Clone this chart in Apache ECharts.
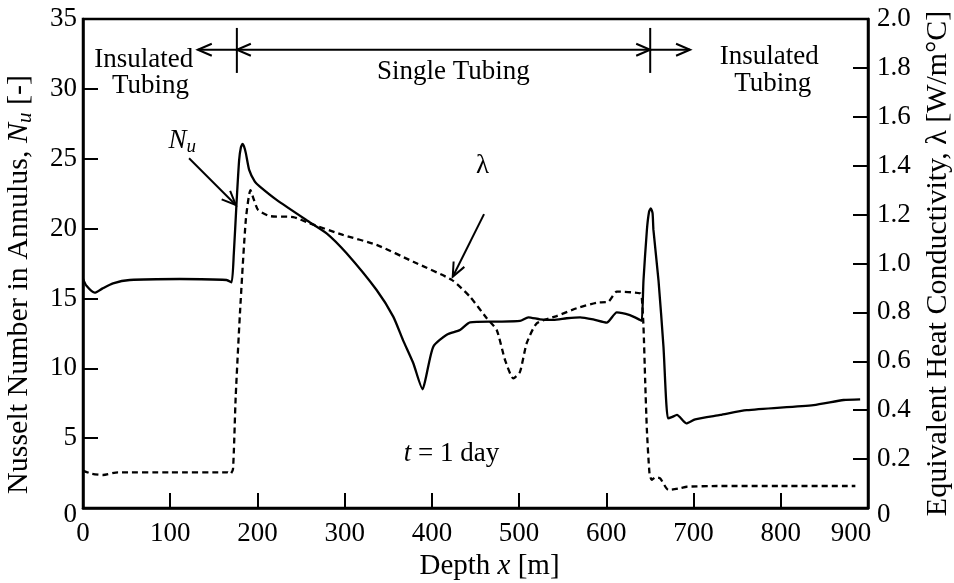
<!DOCTYPE html>
<html>
<head>
<meta charset="utf-8">
<script src="https://cdn.jsdelivr.net/npm/echarts@6/dist/echarts.min.js"></script>
<style>
  html, body { margin: 0; padding: 0; background: #fff; }
  #chart { width: 954px; height: 583px; }
</style>
</head>
<body>
<div id="chart"></div>
<script>
// Nusselt number in the annulus along the well (depth in m)
const nuDepth = [0, 4, 13.4, 22, 34.4, 53.6, 111, 164.5, 170.3, 172.9, 176, 179, 181, 182.9, 184.5, 186.7, 190.5, 197, 202.8, 222, 256.3, 279.3, 302.2, 336.6, 355.7, 367, 378.7, 389.4, 393, 401.6, 417, 432.2, 443.7, 474, 501, 510.6, 524, 539.3, 554.6, 570, 585, 600.5, 612, 627, 638.8, 640.7, 642.6, 646.5, 649, 651, 653, 654, 659.8, 665.5, 670.6, 675, 681, 691.6, 701.9, 730.6, 761, 837.6, 872, 891];
const nuValue = [16.4, 15.9, 15.41, 15.7, 16.08, 16.32, 16.39, 16.32, 16.15, 18.2, 21.8, 24.9, 25.8, 26.06, 25.9, 25.4, 24.2, 23.36, 23.0, 22.05, 20.6, 19.66, 18.23, 15.6, 13.7, 12.0, 10.36, 8.5, 9.3, 11.55, 12.4, 12.74, 13.29, 13.34, 13.39, 13.65, 13.5, 13.46, 13.58, 13.65, 13.5, 13.27, 14.0, 13.8, 13.46, 13.4, 16.3, 19.9, 21.2, 21.45, 21.1, 19.9, 16.3, 11.55, 6.42, 6.5, 6.66, 6.06, 6.35, 6.66, 7.0, 7.37, 7.73, 7.78];

// Equivalent heat conductivity lambda along the well (W/m°C)
const lamDepth = [0, 10, 23, 40, 100, 166, 169, 172, 175, 180, 186.7, 192, 196, 200.8, 214, 241, 260, 298, 336.6, 378.7, 422.7, 443.7, 462.9, 474.3, 483.9, 493.4, 501, 508.7, 520.2, 543, 566, 589, 602.4, 612, 638.8, 640.7, 642.6, 644.5, 646.5, 649.5, 652, 656, 661.7, 671.3, 684.7, 692.3, 726.8, 800, 885.5];
const lamValue = [0.153, 0.14, 0.135, 0.146, 0.146, 0.146, 0.139, 0.16, 0.45, 0.80, 1.18, 1.30, 1.26, 1.219, 1.194, 1.19, 1.164, 1.117, 1.076, 1.007, 0.933, 0.864, 0.776, 0.728, 0.605, 0.530, 0.557, 0.674, 0.755, 0.785, 0.817, 0.84, 0.844, 0.885, 0.878, 0.858, 0.742, 0.524, 0.319, 0.142, 0.115, 0.125, 0.121, 0.074, 0.081, 0.087, 0.09, 0.09, 0.09];

// Axis ranges and tick steps
const depthRange = [0, 900, 100];
const nuRange = [0, 35, 5];
const lamRange = [0, 2.0, 0.2];

// Region markers above the curves: boundaries between tubing types (depth, Nu units)
const regionEdges = [176.4, 650.3];
const regionArrowEnds = [131.6, 696];
const regionArrowLevel = 32.8;
const regionTickSpan = [31.14, 34.36];

// Pointers from the curve names to the curves
const nuPointer = [121.6, 25.03, 175.2, 21.69];
const lamPointer = [459.8, 1.202, 423.9, 0.946];

// Text notes placed in depth / Nu coordinates
const notes = [
  { text: 'Insulated', at: [69.6, 32.1] },
  { text: 'Tubing', at: [77.5, 30.2] },
  { text: 'Single Tubing', at: [424.7, 31.2] },
  { text: 'Insulated', at: [786.8, 32.26] },
  { text: 'Tubing', at: [790.8, 30.36] },
  { text: '{i|t} = 1 day', at: [422.5, 3.87] },
  { text: '{i|N}{s|u}', at: [113.8, 26.3] }
];
const lamNotes = [{ text: 'λ', at: [458, 1.40] }];

const FONT = 'Liberation Serif';
const INK = '#000';

const zip = (a, b) => a.map((v, i) => [v, b[i]]);

function chevron(tip, from, len, half) {
  const dx = tip[0] - from[0], dy = tip[1] - from[1];
  const d = Math.hypot(dx, dy) || 1;
  const ux = dx / d, uy = dy / d;
  const bx = tip[0] - ux * len, by = tip[1] - uy * len;
  return {
    type: 'polyline',
    shape: { points: [[bx - uy * half, by + ux * half], [tip[0], tip[1]], [bx + uy * half, by - ux * half]] },
    style: { stroke: INK, fill: null, lineWidth: 2 }
  };
}

// segment rows: x1, y1, x2, y2, heads (0 none, 1 at end, 2 both ends)
const nuSegments = [
  [regionEdges[0], regionTickSpan[0], regionEdges[0], regionTickSpan[1], 0],
  [regionEdges[1], regionTickSpan[0], regionEdges[1], regionTickSpan[1], 0],
  [regionEdges[0], regionArrowLevel, regionArrowEnds[0], regionArrowLevel, 1],
  [regionEdges[0], regionArrowLevel, regionEdges[1], regionArrowLevel, 2],
  [regionEdges[1], regionArrowLevel, regionArrowEnds[1], regionArrowLevel, 1],
  [nuPointer[0], nuPointer[1], nuPointer[2], nuPointer[3], 1]
];
const lamSegments = [[lamPointer[0], lamPointer[1], lamPointer[2], lamPointer[3], 1]];

function renderSegment(params, api) {
  const p1 = api.coord([api.value(0), api.value(1)]);
  const p2 = api.coord([api.value(2), api.value(3)]);
  const heads = api.value(4);
  const children = [{
    type: 'line',
    shape: { x1: p1[0], y1: p1[1], x2: p2[0], y2: p2[1] },
    style: { stroke: INK, lineWidth: 2 }
  }];
  if (heads >= 1) children.push(chevron(p2, p1, 14, 6));
  if (heads === 2) children.push(chevron(p1, p2, 14, 6));
  return { type: 'group', children };
}

const noteRich = {
  i: { fontFamily: FONT, fontSize: 27, fontStyle: 'italic', fill: INK },
  s: { fontFamily: FONT, fontSize: 19, fontStyle: 'italic', fill: INK, padding: [12, 0, 0, 0] }
};

function makeNoteRenderer(list) {
  return function (params, api) {
    const p = api.coord([api.value(0), api.value(1)]);
    return {
      type: 'text',
      x: p[0], y: p[1],
      style: {
        text: list[params.dataIndex].text,
        fontFamily: FONT, fontSize: 27, fill: INK,
        align: 'center', verticalAlign: 'middle',
        rich: noteRich
      }
    };
  };
}

const chart = echarts.init(document.getElementById('chart'), null, { renderer: 'canvas' });

const tickLabel = { fontFamily: FONT, fontSize: 27, color: INK };

chart.setOption({
  animation: false,
  backgroundColor: '#fff',
  grid: {
    left: 83, right: 86, top: 19, bottom: 75,
    outerBoundsMode: 'none',
    containLabel: false,
    show: true, borderColor: INK, borderWidth: 2.5, backgroundColor: 'transparent'
  },
  xAxis: {
    type: 'value',
    min: depthRange[0], max: depthRange[1], interval: depthRange[2],
    name: '{t|Depth }{i|x}{t| [m]}',
    nameLocation: 'middle', nameGap: 41,
    nameTextStyle: {
      padding: [0, 0, 0, 28],
      rich: {
        t: { fontFamily: FONT, fontSize: 29, color: INK },
        i: { fontFamily: FONT, fontSize: 29, fontStyle: 'italic', color: INK }
      }
    },
    axisLine: { show: true, lineStyle: { color: INK, width: 2.5 } },
    axisTick: { show: true, inside: true, length: 15, lineStyle: { color: INK, width: 2 } },
    splitLine: { show: false },
    axisLabel: Object.assign({}, tickLabel, {
      margin: 12,
      formatter: v => v === depthRange[1] ? '{e|' + v + '}' : String(v),
      rich: { e: { fontFamily: FONT, fontSize: 27, color: INK, padding: [0, 34, 6, 0] } }
    })
  },
  yAxis: [
    {
      type: 'value',
      min: nuRange[0], max: nuRange[1], interval: nuRange[2],
      name: '{t|Nusselt Number in Annulus, }{i|N}{s|u}{t| [-]}',
      nameLocation: 'middle', nameGap: 47,
      nameTextStyle: {
        padding: [0, 42, 0, 0],
        rich: {
          t: { fontFamily: FONT, fontSize: 30, color: INK },
          i: { fontFamily: FONT, fontSize: 30, fontStyle: 'italic', color: INK },
          s: { fontFamily: FONT, fontSize: 21, fontStyle: 'italic', color: INK, padding: [13, 0, 0, 0] }
        }
      },
      axisLine: { show: true, lineStyle: { color: INK, width: 2.5 } },
      axisTick: { show: true, inside: true, length: 15, lineStyle: { color: INK, width: 2 } },
      splitLine: { show: false },
      axisLabel: Object.assign({}, tickLabel, {
        margin: 6,
        formatter: v => v === 0 ? '{z|0}' : String(v),
        rich: { z: { fontFamily: FONT, fontSize: 27, color: INK, padding: [14, 0, 0, 0] } }
      })
    },
    {
      type: 'value',
      position: 'right',
      min: lamRange[0], max: lamRange[1], interval: lamRange[2],
      name: '{t|Equivalent Heat Conductivity, λ [W/m°C]}',
      nameLocation: 'middle', nameGap: 55,
      nameTextStyle: {
        rich: { t: { fontFamily: FONT, fontSize: 30, color: INK } }
      },
      axisLine: { show: true, lineStyle: { color: INK, width: 2.5 } },
      axisTick: { show: true, inside: true, length: 15, lineStyle: { color: INK, width: 2 } },
      splitLine: { show: false },
      axisLabel: Object.assign({}, tickLabel, {
        margin: 9,
        formatter: v => v === 0 ? '{z|0}' : v.toFixed(1),
        rich: { z: { fontFamily: FONT, fontSize: 27, color: INK, padding: [14, 0, 0, 0] } }
      })
    }
  ],
  series: [
    {
      name: 'Nu',
      type: 'line',
      yAxisIndex: 0,
      data: zip(nuDepth, nuValue),
      showSymbol: false,
      smooth: 0.2,
      lineStyle: { color: INK, width: 2.3 },
      z: 3
    },
    {
      name: 'lambda',
      type: 'line',
      yAxisIndex: 1,
      data: zip(lamDepth, lamValue),
      showSymbol: false,
      smooth: 0.2,
      lineStyle: { color: INK, width: 2.3, type: [6, 4] },
      z: 3
    },
    {
      type: 'custom',
      yAxisIndex: 0,
      data: nuSegments,
      renderItem: renderSegment,
      clip: false,
      silent: true,
      z: 4
    },
    {
      type: 'custom',
      yAxisIndex: 1,
      data: lamSegments,
      renderItem: renderSegment,
      clip: false,
      silent: true,
      z: 4
    },
    {
      type: 'custom',
      yAxisIndex: 0,
      data: notes.map(n => n.at),
      renderItem: makeNoteRenderer(notes),
      clip: false,
      silent: true,
      z: 5
    },
    {
      type: 'custom',
      yAxisIndex: 1,
      data: lamNotes.map(n => n.at),
      renderItem: makeNoteRenderer(lamNotes),
      clip: false,
      silent: true,
      z: 5
    }
  ]
});
</script>
</body>
</html>
